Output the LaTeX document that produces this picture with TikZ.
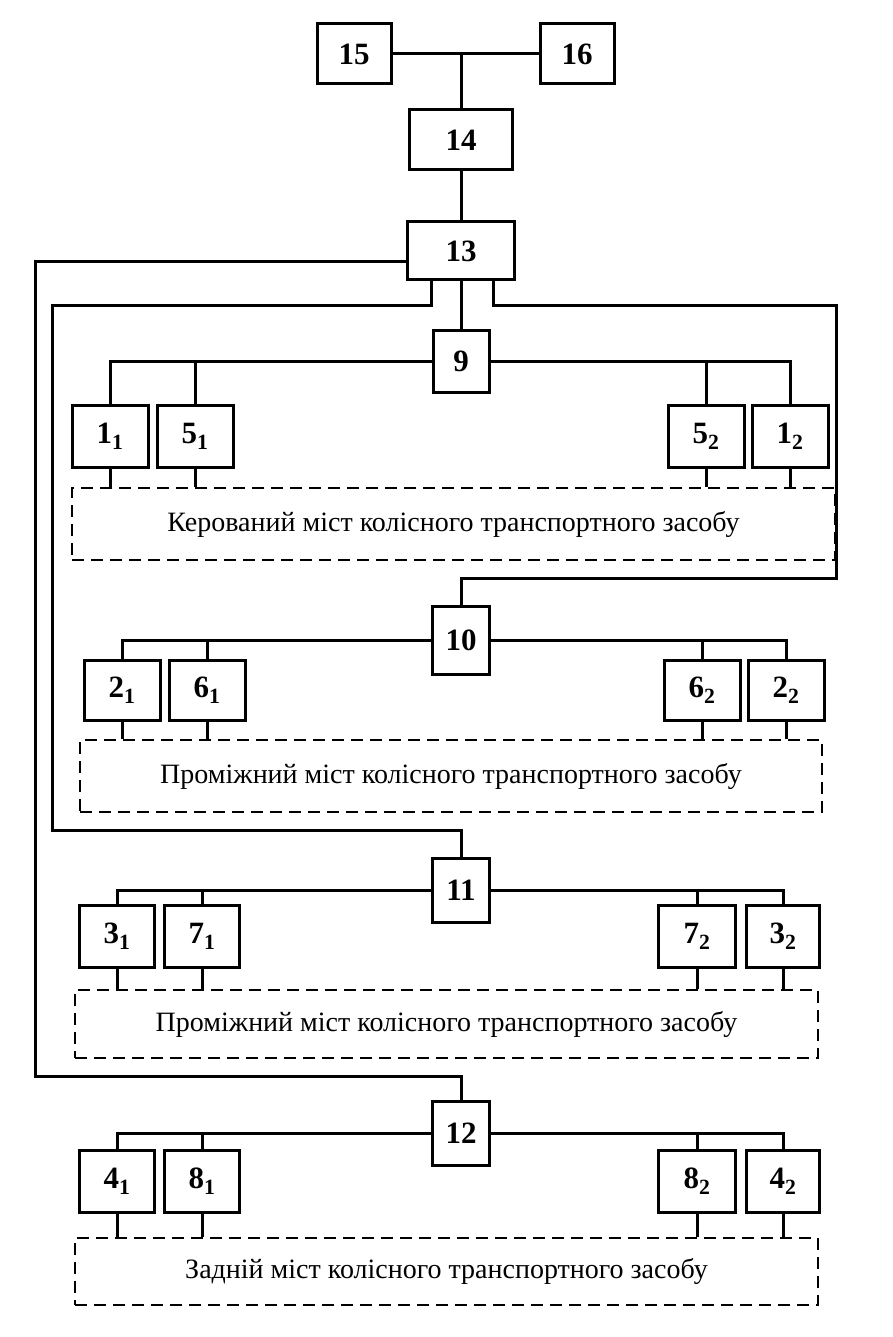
\documentclass[tikz,border=0pt]{standalone}
\usepackage{fontspec}
\setmainfont{Liberation Serif}
\begin{document}
\begin{tikzpicture}[x=1pt,y=-1pt,line width=3pt,
 box/.style={draw,line width=3pt,minimum width=74pt,minimum height=60pt,inner sep=0pt,font=\fontsize{31}{31}\selectfont\bfseries},
 dbox/.style={draw,dashed,dash pattern=on 12pt off 7pt,line width=2.5pt,inner sep=0pt,font=\fontsize{28}{28}\selectfont},
 ln/.style={line width=3pt}]
\useasboundingbox (0,0) rectangle (892,1337);
% top
\node[box] (n15) at (354,54) {15};
\node[box] (n16) at (577,54) {16};
\node[box,minimum width=103pt] (n14) at (461,140) {14};
\node[box,minimum width=107pt,minimum height=58pt] (n13) at (461,251) {13};
\node[box,minimum width=56pt,minimum height=62pt] (n9) at (461,361) {9};
\node[box,minimum width=57pt,minimum height=68pt] (n10) at (461,640) {10};
\node[box,minimum width=57pt,minimum height=64pt] (n11) at (461,890) {11};
\node[box,minimum width=57pt,minimum height=64pt] (n12) at (461,1133) {12};
% axle 1
\node[box,minimum width=76pt,minimum height=62pt] (a1) at (110,436) {1\textsubscript{1}};
\node[box,minimum width=76pt,minimum height=62pt] (a2) at (195,436) {5\textsubscript{1}};
\node[box,minimum width=76pt,minimum height=62pt] (a3) at (706,436) {5\textsubscript{2}};
\node[box,minimum width=76pt,minimum height=62pt] (a4) at (790,436) {1\textsubscript{2}};
\node[dbox,minimum width=763pt,minimum height=72pt] (d1) at (453.5,524) {Керований міст колісного транспортного засобу};
% axle 2
\node[box,minimum width=76pt,minimum height=60pt] (b1) at (122,690) {2\textsubscript{1}};
\node[box,minimum width=76pt,minimum height=60pt] (b2) at (207,690) {6\textsubscript{1}};
\node[box,minimum width=76pt,minimum height=60pt] (b3) at (702,690) {6\textsubscript{2}};
\node[box,minimum width=76pt,minimum height=60pt] (b4) at (786,690) {2\textsubscript{2}};
\node[dbox,minimum width=742pt,minimum height=72pt] (d2) at (451,776) {Проміжний міст колісного транспортного засобу};
% axle 3
\node[box,minimum width=75pt,minimum height=62pt] (c1) at (117,936) {3\textsubscript{1}};
\node[box,minimum width=75pt,minimum height=62pt] (c2) at (202,936) {7\textsubscript{1}};
\node[box,minimum width=77pt,minimum height=62pt] (c3) at (697,936) {7\textsubscript{2}};
\node[box,minimum width=73pt,minimum height=62pt] (c4) at (783,936) {3\textsubscript{2}};
\node[dbox,minimum width=743pt,minimum height=68pt] (d3) at (446.5,1024) {Проміжний міст колісного транспортного засобу};
% axle 4
\node[box,minimum width=75pt,minimum height=62pt] (e1) at (117,1181) {4\textsubscript{1}};
\node[box,minimum width=75pt,minimum height=62pt] (e2) at (202,1181) {8\textsubscript{1}};
\node[box,minimum width=77pt,minimum height=62pt] (e3) at (697,1181) {8\textsubscript{2}};
\node[box,minimum width=73pt,minimum height=62pt] (e4) at (783,1181) {4\textsubscript{2}};
\node[dbox,minimum width=743pt,minimum height=67pt] (d4) at (446.5,1271.5) {Задній міст колісного транспортного засобу};
% connectors top
\draw[ln] (n15.east) -- (n16.west);
\draw[ln] (n14.north) -- (n14.north |- n15.east);
\draw[ln] (n14.south) -- (n13.north);
\draw[ln] (n13.south) -- (n9.north);
\coordinate (L1) at (35,1076);
\coordinate (L2) at (52,305);
\coordinate (L2b) at (52,830);
\coordinate (R1) at (836,305);
\coordinate (R1b) at (836,578);
\draw[ln] ([yshift=-11pt]n13.west) -| (L1) -| (n12.north);
\draw[ln] ([xshift=-30pt]n13.south) |- (L2) -- (L2b) -| (n11.north);
\draw[ln] ([xshift=32pt]n13.south) |- (R1) -- (R1b) -| (n10.north);
% drops
\foreach \hub/\a/\b/\c/\d/\dd in {n9/a1/a2/a3/a4/d1, n10/b1/b2/b3/b4/d2, n11/c1/c2/c3/c4/d3, n12/e1/e2/e3/e4/d4}{
 \draw[ln] (\a.north) |- (\hub.west);
 \draw[ln] (\b.north) |- (\hub.west);
 \draw[ln] (\c.north) |- (\hub.east);
 \draw[ln] (\d.north) |- (\hub.east);
 \foreach \q in {\a,\b,\c,\d}{\draw[ln] (\q.south) -- (\q.south |- \dd.north);}
}
\end{tikzpicture}
\end{document}
